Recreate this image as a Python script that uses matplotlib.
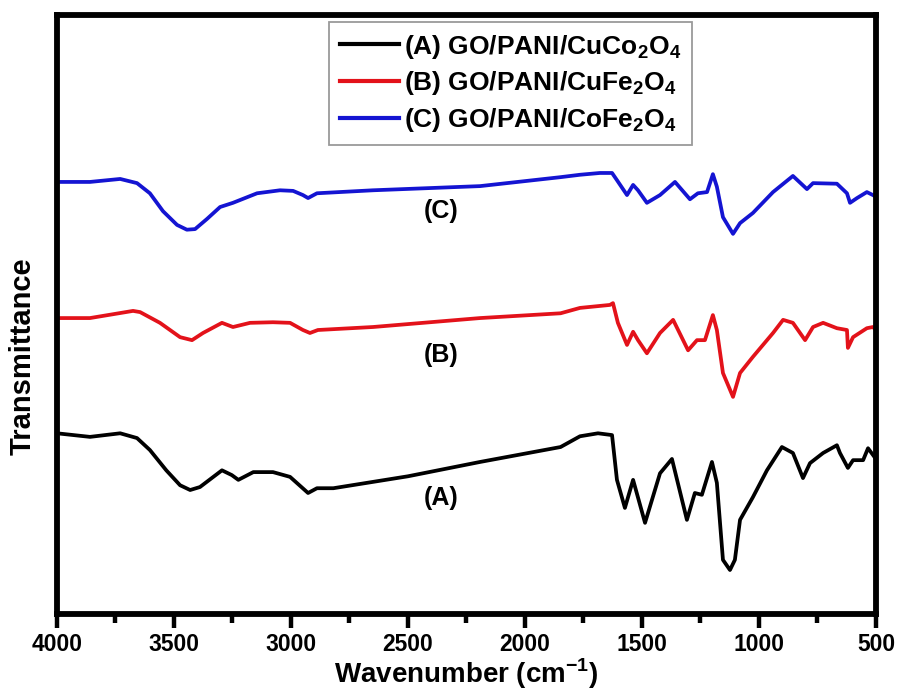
import matplotlib
matplotlib.use("Agg")
import matplotlib.pyplot as plt
from matplotlib.ticker import MultipleLocator

plt.rcParams['font.family'] = ['Liberation Sans', 'DejaVu Sans']
plt.rcParams['mathtext.fontset'] = 'custom'
plt.rcParams['mathtext.rm'] = 'Liberation Sans:bold'
plt.rcParams['mathtext.bf'] = 'Liberation Sans:bold'

# FTIR spectra (wavenumber in cm^-1, transmittance in arbitrary units, offset per sample)
wn_c = [4000, 3859, 3730, 3658, 3603, 3547, 3487, 3445, 3410, 3359, 3303, 3248,
        3145, 3047, 2991, 2949, 2927, 2889, 2650, 2192, 1848, 1765, 1680, 1628,
        1607, 1564, 1538, 1517, 1479, 1423, 1359, 1295, 1261, 1222, 1197, 1180,
        1154, 1111, 1081, 1026, 940, 855, 795, 769, 667, 624, 611, 581, 539,
        513, 500]
t_c = [71.2, 71.2, 71.7, 71.0, 69.3, 66.3, 64.0, 63.2, 63.3, 65.0, 67.0, 67.7,
       69.3, 69.8, 69.7, 69.0, 68.5, 69.3, 69.8, 70.5, 72.0, 72.4, 72.7, 72.7,
       71.5, 69.0, 70.7, 69.8, 67.7, 69.0, 71.2, 68.3, 69.3, 69.5, 72.5, 70.4,
       65.3, 62.5, 64.3, 66.0, 69.5, 72.2, 70.0, 71.0, 70.9, 69.3, 67.7, 68.5,
       69.5, 69.0, 68.7]

wn_b = [4000, 3859, 3675, 3645, 3560, 3474, 3423, 3376, 3295, 3248, 3175, 3077,
        3004, 2949, 2919, 2885, 2650, 2192, 1848, 1765, 1637, 1624, 1603, 1564,
        1538, 1517, 1479, 1423, 1367, 1303, 1265, 1231, 1197, 1180, 1154, 1111,
        1081, 1026, 940, 897, 855, 803, 769, 726, 667, 624, 620, 598, 539, 513,
        500]
t_b = [48.4, 48.4, 49.6, 49.4, 47.6, 45.2, 44.7, 45.9, 47.6, 46.9, 47.6, 47.7,
       47.6, 46.4, 45.9, 46.4, 46.9, 48.4, 49.2, 50.1, 50.6, 50.9, 47.6, 43.9,
       46.1, 44.7, 42.5, 45.9, 48.1, 43.0, 44.7, 44.7, 48.9, 46.4, 39.2, 35.2,
       39.2, 41.9, 45.9, 48.1, 47.6, 44.7, 46.9, 47.6, 46.7, 46.4, 43.4, 45.2,
       46.7, 46.9, 46.4]

wn_a = [4000, 3859, 3730, 3658, 3603, 3533, 3474, 3431, 3389, 3295, 3253, 3225,
        3161, 3077, 3004, 2927, 2889, 2819, 2500, 2192, 1848, 1765, 1688, 1628,
        1607, 1573, 1538, 1487, 1423, 1372, 1308, 1274, 1244, 1201, 1180, 1154,
        1124, 1103, 1081, 1026, 966, 902, 855, 812, 782, 726, 667, 654, 620,
        598, 555, 534, 504, 500]
t_a = [29.1, 28.5, 29.1, 28.3, 26.3, 22.9, 20.4, 19.6, 20.1, 22.9, 22.1, 21.3,
       22.6, 22.6, 21.8, 19.1, 19.9, 19.9, 21.9, 24.3, 26.8, 28.6, 29.1, 28.8,
       21.3, 16.6, 21.3, 14.1, 22.4, 24.8, 14.6, 19.1, 18.8, 24.3, 20.8, 7.9,
       6.2, 7.9, 14.6, 18.4, 22.9, 26.8, 25.8, 21.6, 24.1, 25.8, 27.1, 25.8,
       23.3, 24.6, 24.6, 26.6, 25.0, 25.0]

series_labels = [r'(A) GO/PANI/CuCo$_2$O$_4$',
                 r'(B) GO/PANI/CuFe$_2$O$_4$',
                 r'(C) GO/PANI/CoFe$_2$O$_4$']
series_colors = ['black', '#e3121a', '#1414d2']
curve_tags = ['(A)', '(B)', '(C)']
tag_x = 2359
tag_y = [18.3, 42.2, 66.3]

fig = plt.figure(figsize=(8.99, 6.91), dpi=100)
ax = fig.add_axes([0.0634, 0.1114, 0.911, 0.8669])

for wn, t, col, lab in zip([wn_a, wn_b, wn_c], [t_a, t_b, t_c], series_colors, series_labels):
    ax.plot(wn, t, color=col, lw=2.7, solid_joinstyle='round', label=lab)

for tag, ty in zip(curve_tags, tag_y):
    ax.text(tag_x, ty, tag, fontsize=18, fontweight='bold', ha='center', va='center')

ax.set_xlim(4000, 500)
ax.set_ylim(-1.17, 99.16)
ax.xaxis.set_major_locator(MultipleLocator(500))
ax.xaxis.set_minor_locator(MultipleLocator(250))
ax.set_yticks([])
ax.tick_params(axis='x', which='major', direction='out', length=10, width=3.2,
               labelsize=16.5, pad=4)
ax.tick_params(axis='x', which='minor', direction='out', length=6.5, width=3.2)
for lab in ax.get_xticklabels():
    lab.set_fontweight('bold')
for sp in ax.spines.values():
    sp.set_linewidth(4.2)

ax.set_xlabel(r'Wavenumber (cm$^{-1}$)', fontsize=20, fontweight='bold', labelpad=0)
ax.set_ylabel('Transmittance', fontsize=21, fontweight='bold')
ax.yaxis.set_label_coords(-0.025, 0.43)

leg = ax.legend(loc='upper left', bbox_to_anchor=(0.366, 0.968),
                bbox_transform=fig.transFigure, borderaxespad=0,
                frameon=True, fancybox=False, handlelength=2.25, handletextpad=0.2,
                borderpad=0.4, labelspacing=0.33,
                prop={'weight': 'bold', 'size': 19})
leg.get_frame().set_edgecolor('#808080')
leg.get_frame().set_linewidth(1.3)
for line in leg.get_lines():
    line.set_linewidth(3.0)

fig.savefig('out.png', dpi=100)
